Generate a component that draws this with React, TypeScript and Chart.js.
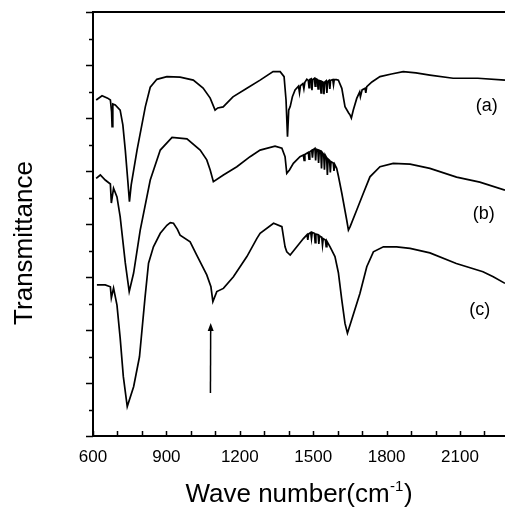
import React, { useEffect, useRef } from "react";
import { Chart, registerables } from "chart.js";

Chart.register(...registerables);

// ---- data (wavenumber cm^-1, transmittance in arbitrary offset units) ----
const seriesAWave = [613, 637, 660, 671, 676, 678, 681, 691, 711, 722, 732, 742, 749, 756, 780, 814, 834, 861, 902, 956, 1010, 1050, 1079, 1099, 1110, 1132, 1172, 1229, 1283, 1336, 1365, 1381, 1389, 1395, 1400, 1406, 1415, 1426, 1440, 1444, 1448, 1458, 1462, 1466, 1474, 1480, 1483, 1486, 1492, 1495, 1498, 1505, 1508, 1511, 1517, 1520, 1523, 1529, 1532, 1535, 1541, 1544, 1547, 1553, 1556, 1559, 1565, 1568, 1571, 1580, 1583, 1586, 1595, 1603, 1617, 1630, 1645, 1651, 1656, 1664, 1678, 1690, 1693, 1700, 1712, 1715, 1719, 1740, 1773, 1820, 1868, 1920, 1977, 2072, 2173, 2284];
const seriesAT = [12.68, 12.84, 12.75, 12.68, 12.23, 11.67, 12.53, 12.49, 12.3, 11.74, 10.79, 9.66, 8.84, 9.47, 10.79, 12.43, 13.16, 13.46, 13.56, 13.54, 13.43, 13.13, 12.75, 12.3, 12.38, 12.42, 12.8, 13.12, 13.43, 13.75, 13.75, 13.56, 12.68, 11.29, 12.3, 12.43, 12.8, 13.06, 13.2, 12.95, 13.22, 13.3, 13.1, 13.35, 13.46, 13.42, 13.15, 13.45, 13.48, 13.05, 13.45, 13.5, 13.2, 13.48, 13.45, 13.1, 13.42, 13.4, 12.95, 13.38, 13.35, 12.9, 13.35, 13.4, 12.95, 13.38, 13.42, 13.1, 13.42, 13.45, 13.25, 13.45, 13.45, 13.43, 13.12, 12.43, 12.19, 12.11, 12.0, 12.3, 12.74, 12.98, 12.8, 13.06, 13.12, 12.95, 13.18, 13.36, 13.56, 13.66, 13.75, 13.7, 13.62, 13.5, 13.5, 13.43];

const seriesBWave = [613, 630, 650, 671, 675, 684, 698, 711, 732, 748, 766, 793, 834, 875, 923, 984, 1038, 1065, 1079, 1092, 1133, 1188, 1242, 1283, 1344, 1372, 1385, 1392, 1403, 1419, 1446, 1460, 1463, 1466, 1474, 1480, 1483, 1486, 1494, 1497, 1500, 1507, 1510, 1513, 1519, 1522, 1525, 1531, 1534, 1537, 1543, 1546, 1549, 1555, 1558, 1561, 1567, 1570, 1573, 1582, 1585, 1588, 1596, 1603, 1617, 1637, 1644, 1651, 1678, 1705, 1732, 1773, 1827, 1896, 1977, 2086, 2181, 2284];
const seriesBT = [9.72, 9.85, 9.66, 9.51, 8.79, 9.35, 9.02, 8.28, 6.53, 5.45, 6.15, 7.77, 9.66, 10.79, 11.27, 11.21, 10.79, 10.42, 10.04, 9.6, 9.85, 10.16, 10.54, 10.79, 10.94, 10.86, 10.54, 9.91, 10.04, 10.29, 10.54, 10.6, 10.4, 10.62, 10.67, 10.7, 10.45, 10.72, 10.78, 10.5, 10.8, 10.85, 10.4, 10.82, 10.8, 10.3, 10.78, 10.75, 10.1, 10.7, 10.62, 10.05, 10.6, 10.5, 9.85, 10.45, 10.4, 9.95, 10.35, 10.3, 10.0, 10.25, 10.1, 9.81, 9.16, 8.15, 7.77, 7.9, 8.53, 9.16, 9.78, 10.16, 10.29, 10.26, 10.1, 9.77, 9.58, 9.28];

const seriesCWave = [616, 650, 671, 675, 684, 698, 711, 724, 740, 766, 790, 813, 827, 847, 875, 902, 916, 929, 945, 956, 997, 1024, 1065, 1082, 1090, 1106, 1133, 1174, 1229, 1270, 1283, 1338, 1372, 1385, 1392, 1406, 1433, 1460, 1475, 1478, 1481, 1490, 1493, 1496, 1505, 1508, 1511, 1520, 1523, 1526, 1535, 1538, 1541, 1550, 1553, 1556, 1569, 1589, 1603, 1617, 1630, 1640, 1657, 1691, 1719, 1746, 1787, 1841, 1896, 1977, 2085, 2194, 2236, 2284];
const seriesCT = [5.7, 5.7, 5.63, 5.21, 5.58, 4.94, 3.7, 2.24, 1.11, 1.86, 2.99, 5.26, 6.52, 7.14, 7.65, 7.95, 8.05, 8.03, 7.8, 7.58, 7.33, 6.83, 6.08, 5.63, 5.07, 5.45, 5.57, 6.01, 6.77, 7.46, 7.65, 8.03, 7.9, 7.14, 6.95, 6.83, 7.14, 7.45, 7.6, 7.4, 7.62, 7.68, 7.45, 7.68, 7.65, 7.3, 7.62, 7.6, 7.25, 7.55, 7.5, 7.2, 7.45, 7.4, 7.15, 7.35, 7.14, 6.77, 6.16, 5.13, 4.25, 3.88, 4.38, 5.38, 6.39, 6.95, 7.14, 7.14, 7.08, 6.91, 6.51, 6.2, 6.01, 5.76];

const xTickLabels = [600, 900, 1200, 1500, 1800, 2100];
const curveLabels = ["(a)", "(b)", "(c)"];
const curveLabelWave = [2209, 2197, 2181];
const curveLabelT = [12.45, 8.36, 4.77];
const arrowWave = [1080, 1081];
const arrowT = [1.62, 4.26];
const xTitle = "Wave number(cm";
const xTitleSup = "-1";
const xTitleEnd = ")";
const yTitle = "Transmittance";

const FONT = "'Liberation Sans', Arial, Helvetica, sans-serif";

function toPoints(w: number[], t: number[]) {
  return w.map((x, i) => ({ x, y: t[i] }));
}

const decorPlugin = {
  id: "decor",
  afterDraw(chart: any) {
    const { ctx, chartArea, scales } = chart;
    const { left, right, top, bottom } = chartArea;
    const xs = scales.x;
    const ys = scales.y;
    ctx.save();
    ctx.strokeStyle = "#000";
    ctx.fillStyle = "#000";
    // frame
    ctx.lineWidth = 2;
    ctx.beginPath();
    ctx.moveTo(left - 1, top);
    ctx.lineTo(right, top);
    ctx.moveTo(left, top);
    ctx.lineTo(left, bottom + 1);
    ctx.moveTo(left - 1, bottom);
    ctx.lineTo(right, bottom);
    ctx.stroke();
    // y ticks (outward)
    ctx.lineWidth = 1.5;
    ctx.beginPath();
    for (const t of ys.ticks) {
      const py = Math.round(ys.getPixelForValue(t.value)) + 0.5;
      const len = Math.round(t.value) % 2 === 0 ? 7 : 4;
      ctx.moveTo(left - len, py);
      ctx.lineTo(left, py);
    }
    // x ticks (inward)
    for (const t of xs.ticks) {
      const px = Math.round(xs.getPixelForValue(t.value)) + 0.5;
      ctx.moveTo(px, bottom);
      ctx.lineTo(px, bottom - 5);
    }
    ctx.stroke();

    // x tick labels
    ctx.font = `17px ${FONT}`;
    ctx.textAlign = "center";
    ctx.textBaseline = "alphabetic";
    for (const v of xTickLabels) {
      ctx.fillText(String(v), xs.getPixelForValue(v), bottom + 26);
    }

    // curve labels
    ctx.font = `18px ${FONT}`;
    ctx.textAlign = "center";
    ctx.textBaseline = "middle";
    curveLabels.forEach((lab, i) => {
      ctx.fillText(lab, xs.getPixelForValue(curveLabelWave[i]), ys.getPixelForValue(curveLabelT[i]));
    });

    // arrow
    const ax0 = xs.getPixelForValue(arrowWave[0]);
    const ay0 = ys.getPixelForValue(arrowT[0]);
    const ax1 = xs.getPixelForValue(arrowWave[1]);
    const ay1 = ys.getPixelForValue(arrowT[1]);
    ctx.lineWidth = 1.5;
    ctx.beginPath();
    ctx.moveTo(ax0, ay0);
    ctx.lineTo(ax1, ay1 + 5);
    ctx.stroke();
    ctx.beginPath();
    ctx.moveTo(ax1, ay1);
    ctx.lineTo(ax1 - 3, ay1 + 8);
    ctx.lineTo(ax1 + 3, ay1 + 8);
    ctx.closePath();
    ctx.fill();

    // x title with superscript
    ctx.textAlign = "left";
    ctx.textBaseline = "alphabetic";
    ctx.font = `26px ${FONT}`;
    const w1 = ctx.measureText(xTitle).width;
    ctx.font = `15px ${FONT}`;
    const w2 = ctx.measureText(xTitleSup).width;
    ctx.font = `26px ${FONT}`;
    const w3 = ctx.measureText(xTitleEnd).width;
    const total = w1 + w2 + w3 + 1;
    let sx = (left + right) / 2 - total / 2;
    const base = 502;
    ctx.fillText(xTitle, sx, base);
    sx += w1 + 0.5;
    ctx.font = `15px ${FONT}`;
    ctx.fillText(xTitleSup, sx, base - 11);
    sx += w2 + 0.5;
    ctx.font = `26px ${FONT}`;
    ctx.fillText(xTitleEnd, sx, base);

    // y title
    ctx.save();
    ctx.translate(32, 243);
    ctx.rotate(-Math.PI / 2);
    ctx.textAlign = "center";
    ctx.textBaseline = "alphabetic";
    ctx.font = `26px ${FONT}`;
    ctx.fillText(yTitle, 0, 0);
    ctx.restore();

    ctx.restore();
  },
};

export default function App() {
  const ref = useRef<HTMLCanvasElement | null>(null);
  useEffect(() => {
    if (!ref.current) return;
    const lineStyle = {
      borderColor: "#000",
      borderWidth: 1.7,
      pointRadius: 0,
      tension: 0,
      fill: false,
    };
    const chart = new Chart(ref.current, {
      type: "line",
      data: {
        datasets: [
          { label: "a", data: toPoints(seriesAWave, seriesAT), ...lineStyle },
          { label: "b", data: toPoints(seriesBWave, seriesBT), ...lineStyle },
          { label: "c", data: toPoints(seriesCWave, seriesCT), ...lineStyle },
        ],
      },
      options: {
        animation: false,
        responsive: false,
        devicePixelRatio: 1,
        layout: { padding: { top: 12, right: 0, left: 0, bottom: 0 } },
        plugins: { legend: { display: false }, tooltip: { enabled: false } },
        scales: {
          x: {
            type: "linear",
            min: 600,
            max: 2284,
            grid: { display: false },
            border: { display: false },
            ticks: { stepSize: 100, includeBounds: false, display: false },
            afterFit: (s: any) => {
              s.height = 73;
            },
          },
          y: {
            type: "linear",
            min: 0,
            max: 16,
            grid: { display: false },
            border: { display: false },
            ticks: { stepSize: 1, display: false },
            afterFit: (s: any) => {
              s.width = 93;
            },
          },
        },
      },
      plugins: [decorPlugin],
    } as any);
    return () => chart.destroy();
  }, []);
  return (
    <div style={{ position: "absolute", left: 0, top: 0, width: 505, height: 509, background: "#fff" }}>
      <canvas ref={ref} width={505} height={509} style={{ display: "block" }} />
    </div>
  );
}
